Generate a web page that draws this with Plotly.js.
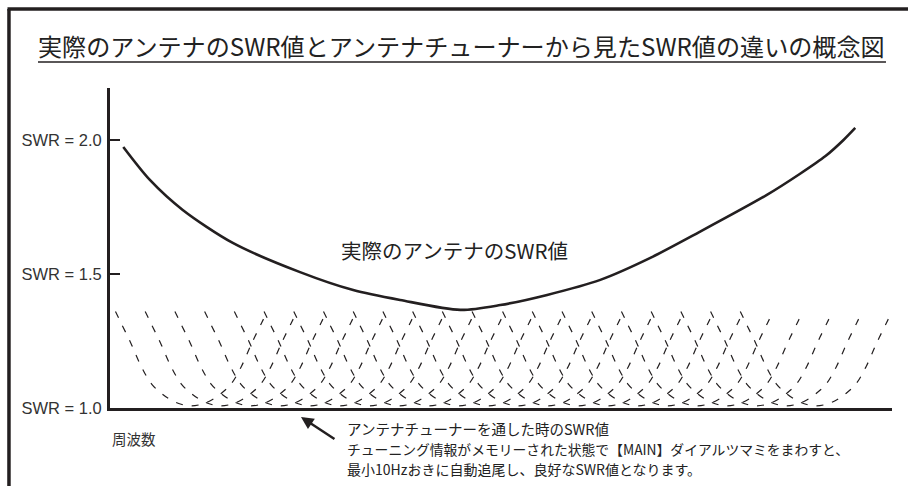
<!DOCTYPE html>
<html>
<head>
<meta charset="utf-8">
<script src="https://cdn.plot.ly/plotly-3.0.1.min.js"></script>
<style>
  html, body { margin: 0; padding: 0; background: #fff; }
  #chart { width: 908px; height: 486px; }
</style>
</head>
<body>
<div id="chart"></div>
<script>
// 実際のアンテナのSWR (周波数は任意単位 0-100)
let antennaFreq = [1.7, 5.1, 9.3, 15.7, 24.3, 31.1, 37.1, 44.8, 49.9, 55.9, 62.7, 69.1, 75.4, 84.0, 88.2, 91.5, 93.8, 95.3];
let antennaSwr = [1.974, 1.851, 1.739, 1.616, 1.507, 1.440, 1.403, 1.366, 1.384, 1.422, 1.478, 1.560, 1.657, 1.795, 1.873, 1.940, 2.000, 2.045];

// チューナー経由のSWR: 同じ形の谷がずれて並ぶ
let tunedCenters = [10.4, 14.2, 18.0, 21.8, 25.6, 29.4, 33.2, 37.0, 40.8, 44.6, 48.4,
    52.2, 56.0, 59.9, 63.7, 67.5, 71.3, 75.1, 78.9, 82.7, 86.5, 90.3];
let dipOffset = [-9.7, -9.0, -7.7, -6.4, -5.1, -3.8, -2.6, -1.3, 0, 1.3, 2.6, 3.8, 5.1, 6.4, 7.7, 9.0, 9.7];
let dipSwr = [1.36, 1.318, 1.24, 1.155, 1.09, 1.054, 1.03, 1.014, 1.008, 1.014, 1.03, 1.054, 1.09, 1.155, 1.24, 1.318, 1.36];

let yTickVals = [1.0, 1.5, 2.0];
let yTickText = ['SWR = 1.0', 'SWR = 1.5', 'SWR = 2.0'];

const INK = '#231f20';
const FONT = '"Noto Sans CJK JP", "Noto Sans", sans-serif';

let data = [];

tunedCenters.forEach(function (c) {
    data.push({
        x: dipOffset.map(d => c + d),
        y: dipSwr,
        type: 'scatter',
        mode: 'lines',
        line: { color: INK, width: 1.2, dash: '7px,9px', shape: 'spline' },
        hoverinfo: 'skip'
    });
});

data.push({
    x: antennaFreq,
    y: antennaSwr,
    type: 'scatter',
    mode: 'lines',
    line: { color: INK, width: 2.6, shape: 'spline', smoothing: 0.8 },
    hoverinfo: 'skip'
});

let layout = {
    width: 908,
    height: 486,
    margin: { l: 110, r: 16, t: 88, b: 78 },
    paper_bgcolor: '#fff',
    plot_bgcolor: '#fff',
    showlegend: false,
    font: { family: FONT, color: '#333' },
    title: {
        text: '実際のアンテナのSWR値とアンテナチューナーから見たSWR値の違いの概念図',
        x: 38 / 908,
        xanchor: 'left',
        y: 1 - 48 / 486,
        yanchor: 'middle',
        font: { family: FONT, size: 24.1, color: '#222' }
    },
    xaxis: {
        range: [0, 100],
        showline: true,
        linewidth: 3,
        linecolor: INK,
        showgrid: false,
        zeroline: false,
        ticks: '',
        showticklabels: false
    },
    yaxis: {
        range: [1.0, 2.194],
        showline: true,
        linewidth: 3,
        linecolor: INK,
        showgrid: false,
        zeroline: false,
        ticks: 'inside',
        ticklen: 10,
        tickwidth: 1.5,
        tickcolor: INK,
        tickmode: 'array',
        tickvals: yTickVals,
        ticktext: yTickText,
        ticklabelstandoff: 2,
        tickfont: { family: '"Liberation Sans", Arial, sans-serif', size: 16.5, color: '#333' }
    },
    shapes: [
        // 外枠 (上・左)
        { type: 'line', xref: 'paper', yref: 'paper', x0: -0.1311, x1: 1.05, y0: 1.2469, y1: 1.2469,
          line: { color: INK, width: 3.5 } },
        { type: 'line', xref: 'paper', yref: 'paper', x0: -0.1292, x1: -0.1292, y0: -0.3, y1: 1.2469,
          line: { color: INK, width: 3.5 } },
        // タイトル下線
        { type: 'line', xref: 'paper', yref: 'paper', x0: -0.0921, x1: 0.9923, y0: 1.0812, y1: 1.0812,
          line: { color: INK, width: 1.5 } }
    ],
    annotations: [
        { xref: 'x', yref: 'y', x: 44.0, y: 1.59, text: '実際のアンテナのSWR値', showarrow: false,
          font: { size: 20.5, color: '#222' } },
        { xref: 'paper', yref: 'paper', x: 0, y: -0.094, xanchor: 'left', yanchor: 'middle', text: '周波数',
          showarrow: false, font: { size: 14.5, color: '#333' } },
        { xref: 'paper', yref: 'paper', x: 0.2442, y: -0.0281, text: '', showarrow: true,
          ax: 35, ay: 23, arrowhead: 2, arrowsize: 1, arrowwidth: 2.5, arrowcolor: INK },
        { xref: 'paper', yref: 'paper', x: 0.3005, y: -0.0625, xanchor: 'left', yanchor: 'middle',
          text: 'アンテナチューナーを通した時のSWR値',
          showarrow: false, font: { size: 14.5, color: '#222' } },
        { xref: 'paper', yref: 'paper', x: 0.3005, y: -0.1266, xanchor: 'left', yanchor: 'middle',
          text: 'チューニング情報がメモリーされた状態で【MAIN】ダイアルツマミをまわすと、',
          showarrow: false, font: { size: 13.8, color: '#222' } },
        { xref: 'paper', yref: 'paper', x: 0.3005, y: -0.1906, xanchor: 'left', yanchor: 'middle',
          text: '最小10Hzおきに自動追尾し、良好なSWR値となります。',
          showarrow: false, font: { size: 14, color: '#222' } }
    ]
};

Plotly.newPlot('chart', data, layout, { staticPlot: true, displayModeBar: false });
</script>
</body>
</html>
